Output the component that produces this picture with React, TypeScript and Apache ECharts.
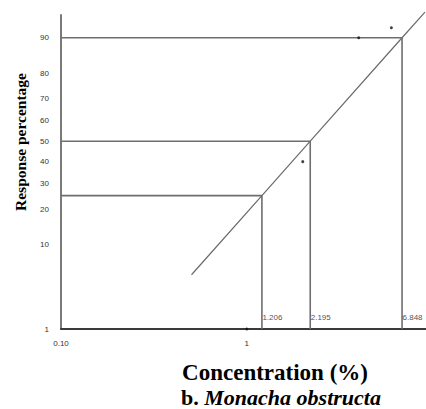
import React, { useEffect, useRef } from "react";
import * as echarts from "echarts";

// ---- data ----
const yTickPercents = [1, 10, 20, 30, 40, 50, 60, 70, 80, 90];
const yTickLabels = ["1", "10", "20", "30", "40", "50", "60", "70", "80", "90"];
const xTickValues = [0.1, 1];
const xTickLabels = ["0.10", "1"];
const obsConc = [1, 2, 4, 6];
const obsPercent = [1, 40, 90, 92];
const fitConc = [0.504, 1.206, 2.195, 6.848, 9.1];
const fitPercent = [4.9, 25, 50, 90, 94.5];
const lcValues = [1.206, 2.195, 6.848];
const lcPercents = [25, 50, 90];
const lcLabels = ["1.206", "2.195", "6.848"];
const xMinConc = 0.1;
const xMaxConc = 9.215;
const yMinPercent = 1;
const yMaxPercent = 94.1;

// inverse normal CDF (probit scale transform)
function probit(p: number): number {
  const a = [-3.969683028665376e1, 2.209460984245205e2, -2.759285104469687e2, 1.38357751867269e2, -3.066479806614716e1, 2.506628277459239];
  const b = [-5.447609879822406e1, 1.615858368580409e2, -1.556989798598866e2, 6.680131188771972e1, -1.328068155833025e1];
  const c = [-7.784894002430293e-3, -3.223964580411365e-1, -2.400758277161838, -2.549732539343734, 4.374664141464968, 2.938163982698783];
  const d = [7.784695709041462e-3, 3.224671290700398e-1, 2.445134137142996, 3.754408661907416];
  const pl = 0.02425;
  const ph = 1 - pl;
  if (p < pl) {
    const q = Math.sqrt(-2 * Math.log(p));
    return (((((c[0] * q + c[1]) * q + c[2]) * q + c[3]) * q + c[4]) * q + c[5]) /
      ((((d[0] * q + d[1]) * q + d[2]) * q + d[3]) * q + 1);
  }
  if (p <= ph) {
    const q = p - 0.5;
    const r = q * q;
    return ((((((a[0] * r + a[1]) * r + a[2]) * r + a[3]) * r + a[4]) * r + a[5]) * q) /
      (((((b[0] * r + b[1]) * r + b[2]) * r + b[3]) * r + b[4]) * r + 1);
  }
  const q = Math.sqrt(-2 * Math.log(1 - p));
  return -(((((c[0] * q + c[1]) * q + c[2]) * q + c[3]) * q + c[4]) * q + c[5]) /
    ((((d[0] * q + d[1]) * q + d[2]) * q + d[3]) * q + 1);
}

const tx = (c: number) => Math.log10(c);
const ty = (pct: number) => probit(pct / 100);

export default function App() {
  const ref = useRef<HTMLDivElement>(null);

  useEffect(() => {
    if (!ref.current) return;
    const chart = echarts.init(ref.current, null, { renderer: "svg" });

    const yCustom = yTickPercents.map(ty);
    const xCustom = xTickValues.map(tx);

    const guideSeries: any[] = lcValues.map((lc, i) => ({
      type: "line",
      data: [
        [tx(xMinConc), ty(lcPercents[i])],
        [tx(lc), ty(lcPercents[i])],
        [tx(lc), ty(yMinPercent)],
      ],
      showSymbol: false,
      lineStyle: { color: "#6e6e6e", width: 1.6 },
      z: 2,
      silent: true,
    }));

    const option: any = {
      animation: false,
      backgroundColor: "#ffffff",
      grid: { left: 61, top: 15, width: 365, height: 314, containLabel: false },
      xAxis: {
        type: "value",
        min: tx(xMinConc),
        max: tx(xMaxConc),
        axisLine: { show: true, onZero: false, lineStyle: { color: "#3a3a3a", width: 2 } },
        axisTick: { show: false },
        splitLine: { show: false },
        axisLabel: {
          customValues: xCustom,
          formatter: (v: number) => {
            const idx = xCustom.findIndex((c) => Math.abs(c - v) < 1e-6);
            return idx >= 0 ? xTickLabels[idx] : "";
          },
          fontFamily: "Liberation Sans",
          fontSize: 8,
          color: "#333",
          margin: 10,
        },
      },
      yAxis: {
        type: "value",
        min: ty(yMinPercent),
        max: ty(yMaxPercent),
        axisLine: { show: true, onZero: false, lineStyle: { color: "#7a7a7a", width: 2 } },
        axisTick: { show: false },
        splitLine: { show: false },
        axisLabel: {
          customValues: yCustom,
          formatter: (v: number) => {
            const idx = yCustom.findIndex((c) => Math.abs(c - v) < 1e-6);
            return idx >= 0 ? yTickLabels[idx] : "";
          },
          fontFamily: "Liberation Sans",
          fontSize: 8,
          color: "#333",
          margin: 12,
        },
      },
      series: [
        ...guideSeries,
        {
          type: "line",
          data: fitConc.map((c, i) => [tx(c), ty(fitPercent[i])]),
          showSymbol: false,
          lineStyle: { color: "#6a6a6a", width: 1.2 },
          clip: false,
          z: 3,
          silent: true,
        },
        {
          type: "scatter",
          data: obsConc.map((c, i) => [tx(c), ty(obsPercent[i])]),
          symbolSize: 3,
          itemStyle: { color: "#111" },
          z: 5,
          silent: true,
        },
        {
          type: "scatter",
          data: lcValues.map((lc) => [tx(lc), ty(yMinPercent)]),
          symbolSize: 1,
          itemStyle: { color: "rgba(0,0,0,0)" },
          label: {
            show: true,
            formatter: (p: any) => lcLabels[p.dataIndex],
            position: [1, -15],
            align: "left",
            verticalAlign: "top",
            fontFamily: "Liberation Sans",
            fontSize: 8,
            color: "#222",
          },
          z: 6,
          silent: true,
        },
      ],
      graphic: [
        {
          type: "text",
          x: 20,
          y: 142,
          rotation: Math.PI / 2,
          style: {
            text: "Response percentage",
            fontFamily: "Liberation Serif",
            fontWeight: "bold",
            fontSize: 15.5,
            fill: "#000",
            align: "center",
            verticalAlign: "middle",
          },
        },
        {
          type: "text",
          x: 275,
          y: 372,
          style: {
            text: "Concentration (%)",
            fontFamily: "Liberation Serif",
            fontWeight: "bold",
            fontSize: 23,
            fill: "#000",
            align: "center",
            verticalAlign: "middle",
          },
        },
        {
          type: "text",
          x: 281,
          y: 397,
          style: {
            text: "{a|b. }{b|Monacha obstructa}",
            align: "center",
            verticalAlign: "middle",
            rich: {
              a: { fontFamily: "Liberation Serif", fontWeight: "bold", fontSize: 22, fill: "#000" },
              b: { fontFamily: "Liberation Serif", fontWeight: "bold", fontStyle: "italic", fontSize: 22, fill: "#000" },
            },
          },
        },
      ],
    };

    chart.setOption(option);
    return () => chart.dispose();
  }, []);

  return (
    <div
      ref={ref}
      style={{ position: "fixed", left: 0, top: 0, width: 426, height: 409, background: "#fff" }}
    />
  );
}
